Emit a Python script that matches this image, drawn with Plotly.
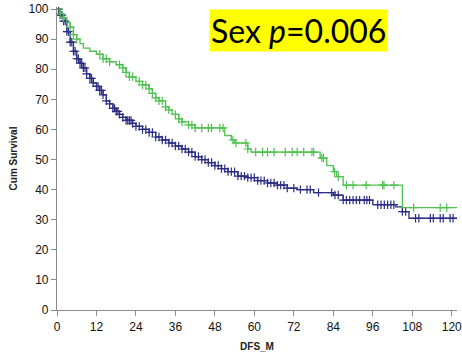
import numpy as np
import plotly.graph_objects as go

# Kaplan-Meier step values (months, cumulative survival %)
female_times = [0, 1, 2, 3, 4, 5, 6, 7, 8, 10, 12, 14, 16, 18, 20, 21, 22, 24, 26, 28, 29, 30,
                31, 33, 34, 35, 37, 38, 40, 42, 51, 53, 54, 58, 59, 80, 82, 84, 85, 87, 105]
female_surv = [100, 98.5, 97, 95.5, 94, 91.5, 90, 88.5, 87, 86, 85, 83.5, 82.5, 81.5, 80.5, 79,
               77.5, 76, 74.8, 73.5, 72, 70.5, 69.5, 67.5, 66.5, 65, 63.5, 62.5, 61.5, 60.5, 58,
               56.5, 55.5, 53.5, 52.5, 50.5, 48, 46, 44.3, 41.5, 34]
female_censored = [1, 2, 4, 5, 6, 13, 14, 15, 16, 19, 20, 21, 22, 23, 25, 26, 27, 28, 29, 30, 31,
                   32, 33, 34, 36, 37, 38, 40, 41, 42, 44, 46, 47, 49.5, 50.5, 53.5, 54.4, 57.4,
                   58, 60.4, 62.5, 64, 66, 69.4, 71.5, 73, 75, 77.5, 78, 80.5, 81, 84.4, 85.5, 88,
                   90, 94, 99, 99.4, 102.4, 108.4, 116.5, 118.5]

male_times = [0, 1, 2, 3, 4, 5, 6, 7, 8, 9, 10, 11, 12, 13, 14, 15, 16, 17, 18, 19, 20, 21, 23,
              24, 26, 28, 30, 32, 34, 36, 38, 40, 42, 44, 46, 48, 50, 52, 55, 58, 61, 64, 67,
              70, 73, 78, 84, 87, 96, 103, 105, 107]
male_surv = [100, 98, 96, 92.5, 89, 86, 83.5, 82, 80.5, 78.5, 77, 75.5, 74.3, 73, 71.5, 69.5,
             68.5, 67, 66, 65, 64, 63, 62, 61, 60, 59, 57.5, 56.5, 55.5, 54.5, 53.5, 52.5, 51,
             50, 49, 48, 47, 46, 44.5, 44, 43, 42.2, 41.5, 40.5, 40, 39, 38.2, 36.5, 35, 34.3,
             32.7, 30.5]
male_censored = [0.5, 1, 1.5, 2, 2.5, 3, 3.5, 4, 4.5, 5, 5.5, 6, 6.5, 7, 7.5, 8, 8.5, 9, 10,
                 10.5, 11, 12, 12.5, 13, 13.5, 14, 15, 16, 17, 17.5, 18, 18.5, 19, 20, 21, 21.5,
                 22, 22.5, 23, 24, 25, 26, 27, 28, 29, 30, 31, 32, 33, 34, 35, 36, 37, 38, 39,
                 40, 41, 42, 43, 44, 45, 46, 47, 48, 49, 50, 51, 52, 53, 54, 55, 56, 57, 58, 59,
                 60, 61, 62, 63, 64, 65, 66, 67, 68, 69, 70, 72, 74, 76, 77, 79.5, 83.5, 84.5,
                 85.5, 87, 88, 89, 90, 91, 92, 93.4, 94.2, 95, 97.5, 98.5, 99.5, 100.5, 101.5,
                 102.4, 105, 106, 109, 110, 113.5, 114.4, 116.5, 117.4, 119.5, 120.4]

x_end = 122
y_ticks = list(range(0, 101, 10))
x_ticks = list(range(0, 121, 12))

GREEN = "#4fc24f"
BLUE = "#2b2e82"


def step_value(times, surv, t):
    idx = np.searchsorted(times, t, side="right") - 1
    return np.asarray(surv)[idx]


fig = go.Figure()

for times, surv, cens, color in [
    (male_times, male_surv, male_censored, BLUE),
    (female_times, female_surv, female_censored, GREEN),
]:
    xs = list(times) + [x_end]
    ys = list(surv) + [surv[-1]]
    fig.add_trace(go.Scatter(x=xs, y=ys, mode="lines", line=dict(color=color, width=1.3, shape="hv"),
                             showlegend=False, hoverinfo="skip"))
    fig.add_trace(go.Scatter(x=cens, y=step_value(times, surv, cens), mode="markers",
                             marker=dict(symbol="cross-thin", size=6, line=dict(color=color, width=1.2)),
                             showlegend=False, hoverinfo="skip"))

fig.add_annotation(x=0.604, y=0.992, xref="paper", yref="paper", xanchor="center", yanchor="top",
                   text="Sex <i>p</i>=0.006", showarrow=False, bgcolor="#ffff00", borderpad=1,
                   font=dict(family="Lato, Open Sans, sans-serif", size=32, color="black"))

axis_common = dict(showgrid=False, zeroline=False, showline=True, linecolor="#8a8a8a", linewidth=1.2,
                   ticks="outside", ticklen=5, tickcolor="#8a8a8a", tickwidth=1.2,
                   tickfont=dict(family="Liberation Sans, Arial", size=12, color="#111"))

fig.update_xaxes(range=[0, 121.6], tickvals=x_ticks, ticktext=[str(v) for v in x_ticks],
                 ticklabeloverflow="allow",
                 title=dict(text="<b>DFS_M</b>", font=dict(family="Liberation Sans, Arial", size=10,
                                                           color="#222"), standoff=10),
                 **axis_common)
fig.update_yaxes(range=[0, 100.7], tickvals=y_ticks, ticktext=[str(v) for v in y_ticks],
                 title=dict(text="<b>Cum Survival</b>", font=dict(family="Liberation Sans, Arial", size=10,
                                                                  color="#222"), standoff=8),
                 **axis_common)

fig.update_layout(width=462, height=361, margin=dict(l=57, r=0, t=7, b=51),
                  plot_bgcolor="white", paper_bgcolor="white")

fig.write_html("out.html")
